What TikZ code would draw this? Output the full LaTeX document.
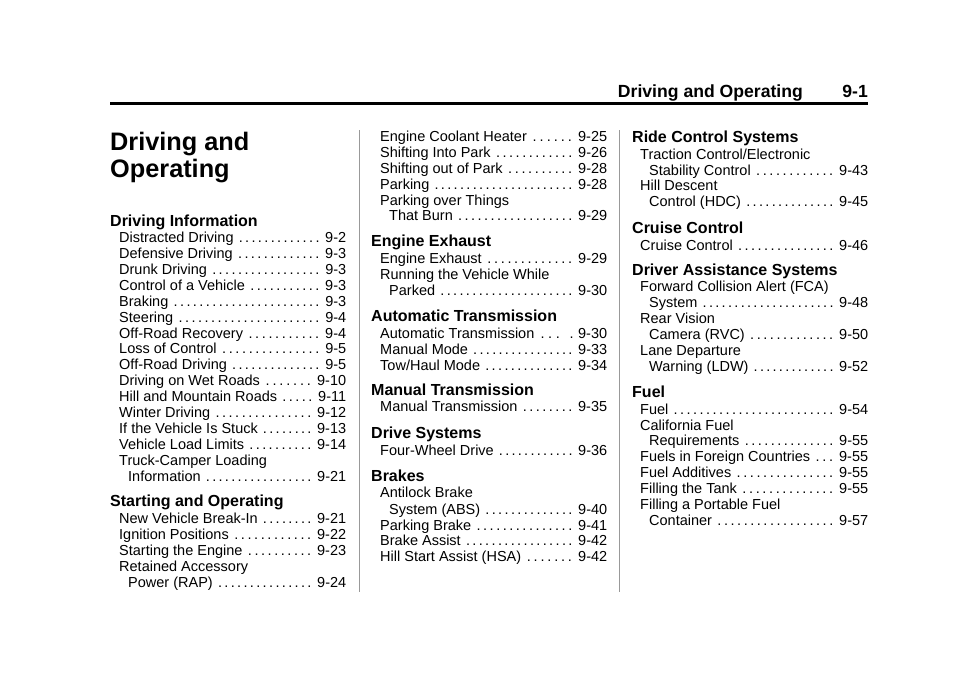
\documentclass[tikz,border=0pt]{standalone}
\usepackage{fontspec}
\setmainfont{Liberation Sans}

% one toc row: width, title, page
\newcommand{\tocrow}[3]{\hbox to #1{#2\hspace{4pt}\xleaders\hbox to 6.3pt{\hss.\hss}\hfill\hspace{4.5pt}#3}}

\tikzset{
  entry/.style={anchor=base west, inner sep=0pt, font=\fontsize{14.5}{16}\selectfont},
  tochead/.style={anchor=base west, inner sep=0pt, font=\bfseries\fontsize{16}{18}\selectfont},
  bigtitle/.style={anchor=base west, inner sep=0pt, font=\bfseries\fontsize{25.3}{27}\selectfont},
  runhead/.style={anchor=base east, inner sep=0pt, font=\bfseries\fontsize{17.6}{20}\selectfont},
  colrule/.style={draw=gray!80, line width=1pt}
}

\begin{document}
\begin{tikzpicture}[x=1pt, y=-1pt]
\useasboundingbox (0,0) rectangle (960,672);

% running head
\node[runhead] (pagenum) at (868,97.3) {9-1};
\node[runhead] (chapter) at (803,97.3) {Driving and Operating};
\coordinate (ruleL) at (110,103.5);
\coordinate (ruleR) at (868,103.5);
\draw[line width=2.7pt] (ruleL)--(ruleR);

% column dividers
\coordinate (divAt) at (359,130);
\coordinate (divAb) at (359,592);
\coordinate (divBt) at (619.5,130);
\coordinate (divBb) at (619.5,592);
\draw[colrule] (divAt)--(divAb);
\draw[colrule] (divBt)--(divBb);

% chapter title
\node[bigtitle] (title1) at (110,150) {Driving and};
\node[bigtitle] (title2) at (110,177) {Operating};

%% first column
\foreach \y/\t [count=\i] in {226/Driving Information, 506.7/Starting and Operating}{
	\node[tochead] (headA\i) at (110,\y) {\t};
}
\foreach \y/\t/\p [count=\i] in {242/Distracted Driving/9-2, 258/Defensive Driving/9-3,
	274/Drunk Driving/9-3, 290/Control of a Vehicle/9-3, 306/Braking/9-3,
	322/Steering/9-4, 338/Off-Road Recovery/9-4, 353.5/Loss of Control/9-5,
	369.5/Off-Road Driving/9-5, 385.5/Driving on Wet Roads/9-10,
	401/Hill and Mountain Roads/9-11, 417/Winter Driving/9-12,
	433/If the Vehicle Is Stuck/9-13, 449/Vehicle Load Limits/9-14,
	523.3/New Vehicle Break-In/9-21, 539/Ignition Positions/9-22,
	555/Starting the Engine/9-23}{
	\node[entry] (rowA\i) at (119,\y) {\tocrow{227pt}{\t}{\p}};
}
\foreach \y/\t [count=\i] in {465/Truck-Camper Loading, 571/Retained Accessory}{
	\node[entry] (wrapA\i) at (119,\y) {\t};
}
\foreach \y/\t/\p [count=\i] in {481/Information/9-21, 587/Power (RAP)/9-24}{
	\node[entry] (contA\i) at (128,\y) {\tocrow{218pt}{\t}{\p}};
}

%% second column
\foreach \y/\t [count=\i] in {246.7/Engine Exhaust, 321.7/Automatic Transmission,
	395/Manual Transmission, 438.5/Drive Systems, 481.5/Brakes}{
	\node[tochead] (headB\i) at (371,\y) {\t};
}
\foreach \y/\t/\p [count=\i] in {141/Engine Coolant Heater/9-25, 157/Shifting Into Park/9-26,
	173/Shifting out of Park/9-28, 189/Parking/9-28, 263.3/Engine Exhaust/9-29,
	338.3/Automatic Transmission/{\hspace{3pt}.\hspace{4.5pt}9-30}, 354/Manual Mode/9-33,
	370/{Tow/Haul Mode}/9-34, 411.7/Manual Transmission/9-35,
	455.3/Four-Wheel Drive/9-36, 530/Parking Brake/9-41, 545.7/Brake Assist/9-42,
	561.7/Hill Start Assist (HSA)/9-42}{
	\node[entry] (rowB\i) at (380,\y) {\tocrow{227pt}{\t}{\p}};
}
\foreach \y/\t [count=\i] in {205/Parking over Things, 279/Running the Vehicle While,
	497.7/Antilock Brake}{
	\node[entry] (wrapB\i) at (380,\y) {\t};
}
\foreach \y/\t/\p [count=\i] in {220.5/That Burn/9-29, 295/Parked/9-30, 514/System (ABS)/9-40}{
	\node[entry] (contB\i) at (389,\y) {\tocrow{218pt}{\t}{\p}};
}

%% third column
\foreach \y/\t [count=\i] in {142.7/Ride Control Systems, 233.3/Cruise Control,
	275/Driver Assistance Systems, 397/Fuel}{
	\node[tochead] (headC\i) at (632,\y) {\t};
}
\foreach \y/\t/\p [count=\i] in {250/Cruise Control/9-46, 414/Fuel/9-54,
	461.7/Fuels in Foreign Countries/9-55, 477.7/Fuel Additives/9-55,
	493.7/Filling the Tank/9-55}{
	\node[entry] (rowC\i) at (640,\y) {\tocrow{228pt}{\t}{\p}};
}
\foreach \y/\t [count=\i] in {159/{Traction Control/Electronic}, 190/Hill Descent,
	291.7/Forward Collision Alert (FCA), 323.5/Rear Vision, 355.5/Lane Departure,
	430/California Fuel, 509.7/Filling a Portable Fuel}{
	\node[entry] (wrapC\i) at (640,\y) {\t};
}
\foreach \y/\t/\p [count=\i] in {175/Stability Control/9-43, 206/Control (HDC)/9-45,
	307.7/System/9-48, 339.7/Camera (RVC)/9-50, 371.7/Warning (LDW)/9-52,
	445.7/Requirements/9-55, 525.5/Container/9-57}{
	\node[entry] (contC\i) at (649,\y) {\tocrow{219pt}{\t}{\p}};
}

\end{tikzpicture}
\end{document}
